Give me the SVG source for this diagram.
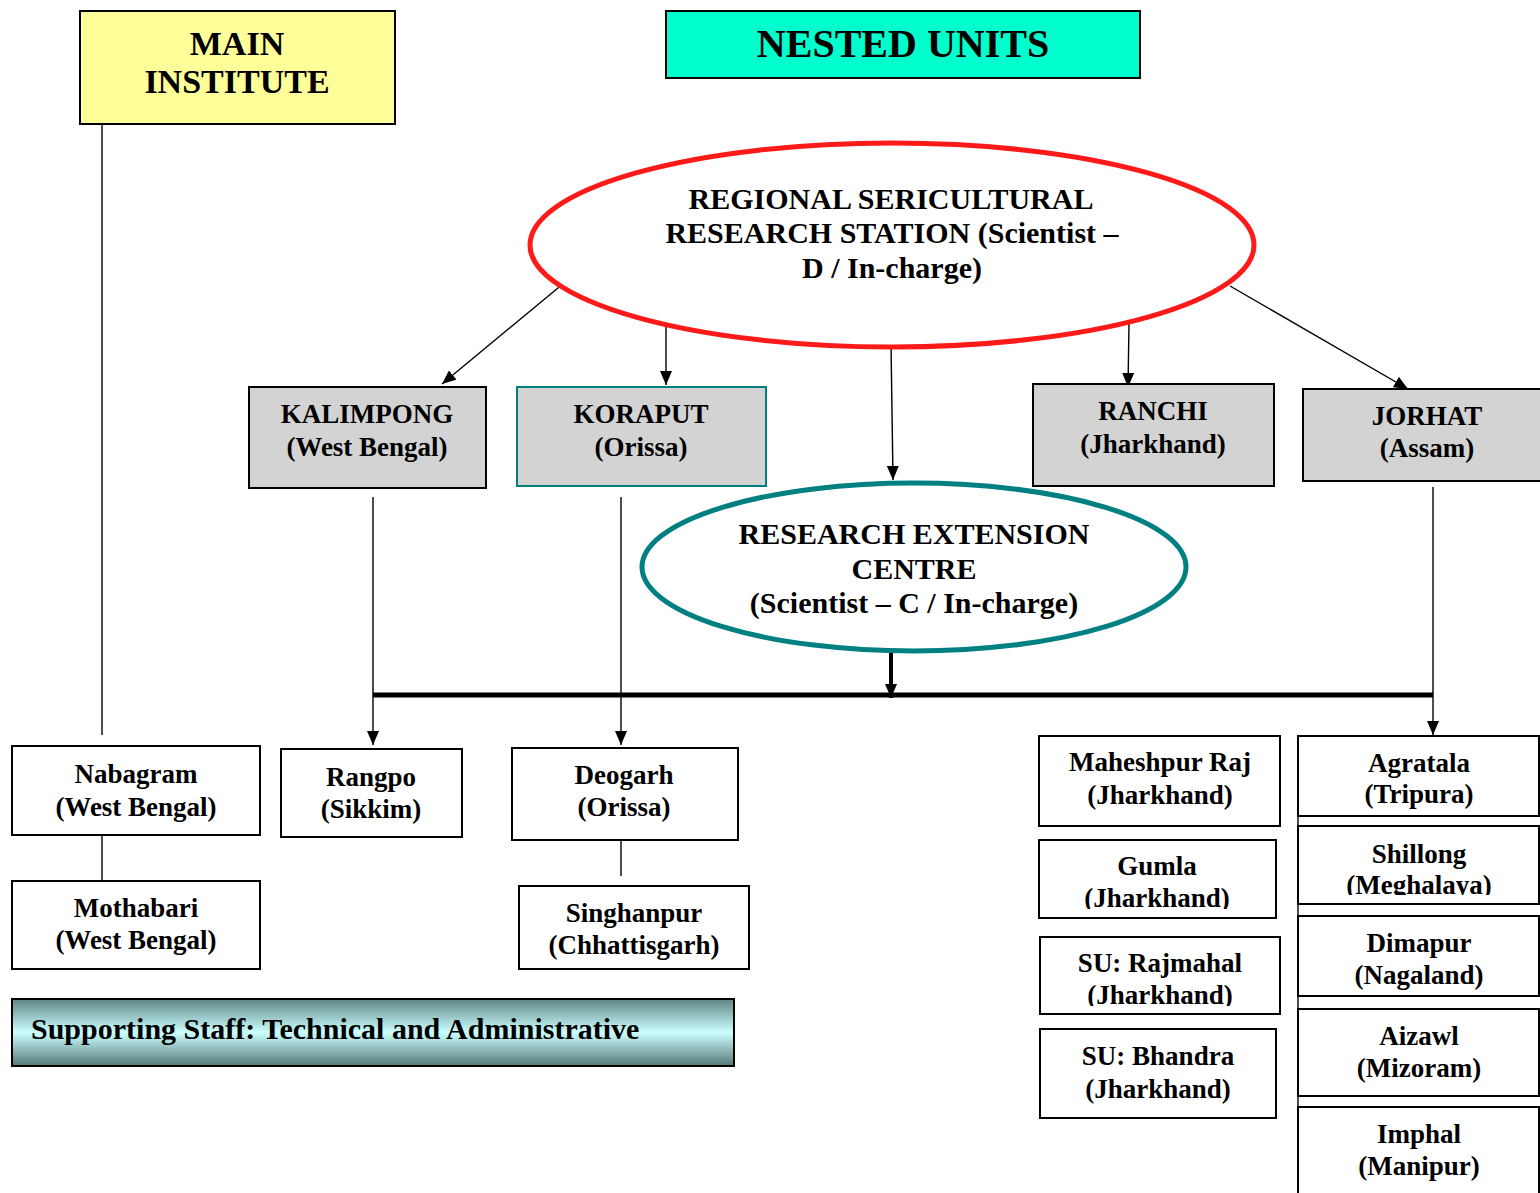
<svg xmlns="http://www.w3.org/2000/svg" width="1540" height="1193" viewBox="0 0 1540 1193">
<style>
  text { font-family: "Liberation Serif", "Times New Roman", serif; font-weight: bold; fill: #000; text-anchor: middle; }
  .box { fill: #fff; stroke: #000; stroke-width: 2; }
  .grey { fill: #d3d3d3; stroke: #000; stroke-width: 2; }
  .t27 { font-size: 27px; }
  .t30 { font-size: 30px; }
  .conn { stroke: #000; stroke-width: 1.4; fill: none; }
</style>
<defs>
  <marker id="ah" viewBox="0 0 14 12" refX="14" refY="6" markerWidth="14" markerHeight="12" markerUnits="userSpaceOnUse" orient="auto">
    <path d="M0,0 L14,6 L0,12 z" fill="#000"/>
  </marker>
  <linearGradient id="staffGrad" x1="0" y1="0" x2="0" y2="1">
    <stop offset="0" stop-color="#5f8585"/>
    <stop offset="0.5" stop-color="#ccffff"/>
    <stop offset="1" stop-color="#557777"/>
  </linearGradient>
  <clipPath id="clipGumla"><rect x="1039" y="841" width="236" height="68"/></clipPath>
  <clipPath id="clipRaj"><rect x="1040" y="937" width="238" height="69"/></clipPath>
  <clipPath id="clipShil"><rect x="1299" y="827" width="239" height="68"/></clipPath>
</defs>

<g id="connectors">
  <line class="conn" x1="102" y1="124" x2="102" y2="735"/>
  <line class="conn" x1="102" y1="836" x2="102" y2="881"/>
  <line class="conn" x1="621" y1="832" x2="621" y2="876"/>
  <line class="conn" x1="564" y1="283" x2="442" y2="384" marker-end="url(#ah)"/>
  <line class="conn" x1="666" y1="322" x2="666" y2="385" marker-end="url(#ah)"/>
  <line class="conn" x1="891" y1="343" x2="893" y2="480" marker-end="url(#ah)"/>
  <line class="conn" x1="1129" y1="323" x2="1128" y2="387" marker-end="url(#ah)"/>
  <line class="conn" x1="1230" y1="286" x2="1408" y2="389" marker-end="url(#ah)"/>
  <line class="conn" x1="373" y1="497" x2="373" y2="745" marker-end="url(#ah)"/>
  <line class="conn" x1="621" y1="497" x2="621" y2="745" marker-end="url(#ah)"/>
  <line class="conn" x1="1433" y1="487" x2="1433" y2="735" marker-end="url(#ah)"/>
  <line x1="891" y1="653" x2="891" y2="698" stroke="#000" stroke-width="4" marker-end="url(#ah)"/>
  <line x1="373" y1="695" x2="1433" y2="695" stroke="#000" stroke-width="5"/>
  <line class="conn" x1="1298" y1="735" x2="1298" y2="1193"/>
</g>

<g id="main-institute">
  <rect x="80" y="11" width="315" height="113" fill="#ffff99" stroke="#000" stroke-width="2"/>
  <text x="237" y="55" font-size="34">MAIN</text>
  <text x="237" y="93" font-size="34">INSTITUTE</text>
</g>

<g id="nested-units">
  <rect x="666" y="11" width="474" height="67" fill="#00ffcc" stroke="#000" stroke-width="2"/>
  <text x="903" y="57" font-size="40">NESTED UNITS</text>
</g>

<g id="rsrs">
  <ellipse cx="892" cy="245" rx="362" ry="102" fill="#fff" stroke="#ff1a1a" stroke-width="5"/>
  <text class="t30" x="891" y="209">REGIONAL SERICULTURAL</text>
  <text class="t30" x="892" y="243">RESEARCH STATION (Scientist –</text>
  <text class="t30" x="892" y="278">D / In-charge)</text>
</g>

<g id="rec">
  <ellipse cx="914" cy="567" rx="272" ry="84" fill="#fff" stroke="#008080" stroke-width="5"/>
  <text class="t30" x="914" y="544">RESEARCH EXTENSION</text>
  <text class="t30" x="914" y="579">CENTRE</text>
  <text class="t30" x="914" y="613">(Scientist – C / In-charge)</text>
</g>

<g id="kalimpong">
  <rect class="grey" x="249" y="387" width="237" height="101"/>
  <text class="t27" x="367" y="423">KALIMPONG</text>
  <text class="t27" x="367" y="456">(West Bengal)</text>
</g>

<g id="koraput">
  <rect x="517" y="387" width="249" height="99" fill="#d3d3d3" stroke="#008080" stroke-width="2"/>
  <text class="t27" x="641" y="423">KORAPUT</text>
  <text class="t27" x="641" y="456">(Orissa)</text>
</g>

<g id="ranchi">
  <rect class="grey" x="1033" y="384" width="241" height="102"/>
  <text class="t27" x="1153" y="420">RANCHI</text>
  <text class="t27" x="1153" y="453">(Jharkhand)</text>
</g>

<g id="jorhat">
  <rect class="grey" x="1303" y="389" width="240" height="92"/>
  <text class="t27" x="1427" y="425">JORHAT</text>
  <text class="t27" x="1427" y="457">(Assam)</text>
</g>

<g id="nabagram">
  <rect class="box" x="12" y="746" width="248" height="89"/>
  <text class="t27" x="136" y="783">Nabagram</text>
  <text class="t27" x="136" y="816">(West Bengal)</text>
</g>

<g id="mothabari">
  <rect class="box" x="12" y="881" width="248" height="88"/>
  <text class="t27" x="136" y="917">Mothabari</text>
  <text class="t27" x="136" y="949">(West Bengal)</text>
</g>

<g id="rangpo">
  <rect class="box" x="281" y="749" width="181" height="88"/>
  <text class="t27" x="371" y="786">Rangpo</text>
  <text class="t27" x="371" y="818">(Sikkim)</text>
</g>

<g id="deogarh">
  <rect class="box" x="512" y="748" width="226" height="92"/>
  <text class="t27" x="624" y="784">Deogarh</text>
  <text class="t27" x="624" y="816">(Orissa)</text>
</g>

<g id="singhanpur">
  <rect class="box" x="519" y="886" width="230" height="83"/>
  <text class="t27" x="634" y="922">Singhanpur</text>
  <text class="t27" x="634" y="954">(Chhattisgarh)</text>
</g>

<g id="supporting-staff">
  <rect x="12" y="999" width="722" height="67" fill="url(#staffGrad)" stroke="#000" stroke-width="2"/>
  <text x="31" y="1039" font-size="30" style="text-anchor:start">Supporting Staff: Technical and Administrative</text>
</g>

<g id="maheshpur">
  <rect class="box" x="1039" y="736" width="241" height="90"/>
  <text class="t27" x="1160" y="771">Maheshpur Raj</text>
  <text class="t27" x="1160" y="804">(Jharkhand)</text>
</g>

<g id="gumla">
  <rect class="box" x="1039" y="840" width="237" height="78"/>
  <text class="t27" x="1157" y="875">Gumla</text>
  <text class="t27" x="1157" y="907" clip-path="url(#clipGumla)">(Jharkhand)</text>
</g>

<g id="rajmahal">
  <rect class="box" x="1040" y="937" width="240" height="77"/>
  <text class="t27" x="1160" y="972">SU: Rajmahal</text>
  <text class="t27" x="1160" y="1004" clip-path="url(#clipRaj)">(Jharkhand)</text>
</g>

<g id="bhandra">
  <rect class="box" x="1040" y="1029" width="236" height="89"/>
  <text class="t27" x="1158" y="1065">SU: Bhandra</text>
  <text class="t27" x="1158" y="1098">(Jharkhand)</text>
</g>

<g id="agratala">
  <rect class="box" x="1298" y="736" width="241" height="80"/>
  <text class="t27" x="1419" y="772">Agratala</text>
  <text class="t27" x="1419" y="803">(Tripura)</text>
</g>

<g id="shillong">
  <rect class="box" x="1298" y="826" width="241" height="78"/>
  <text class="t27" x="1419" y="863">Shillong</text>
  <text class="t27" x="1419" y="894" clip-path="url(#clipShil)">(Meghalaya)</text>
</g>

<g id="dimapur">
  <rect class="box" x="1298" y="916" width="241" height="80"/>
  <text class="t27" x="1419" y="952">Dimapur</text>
  <text class="t27" x="1419" y="984">(Nagaland)</text>
</g>

<g id="aizawl">
  <rect class="box" x="1298" y="1009" width="241" height="87"/>
  <text class="t27" x="1419" y="1045">Aizawl</text>
  <text class="t27" x="1419" y="1077">(Mizoram)</text>
</g>

<g id="imphal">
  <rect class="box" x="1298" y="1107" width="241" height="100"/>
  <text class="t27" x="1419" y="1143">Imphal</text>
  <text class="t27" x="1419" y="1175">(Manipur)</text>
</g>
</svg>
